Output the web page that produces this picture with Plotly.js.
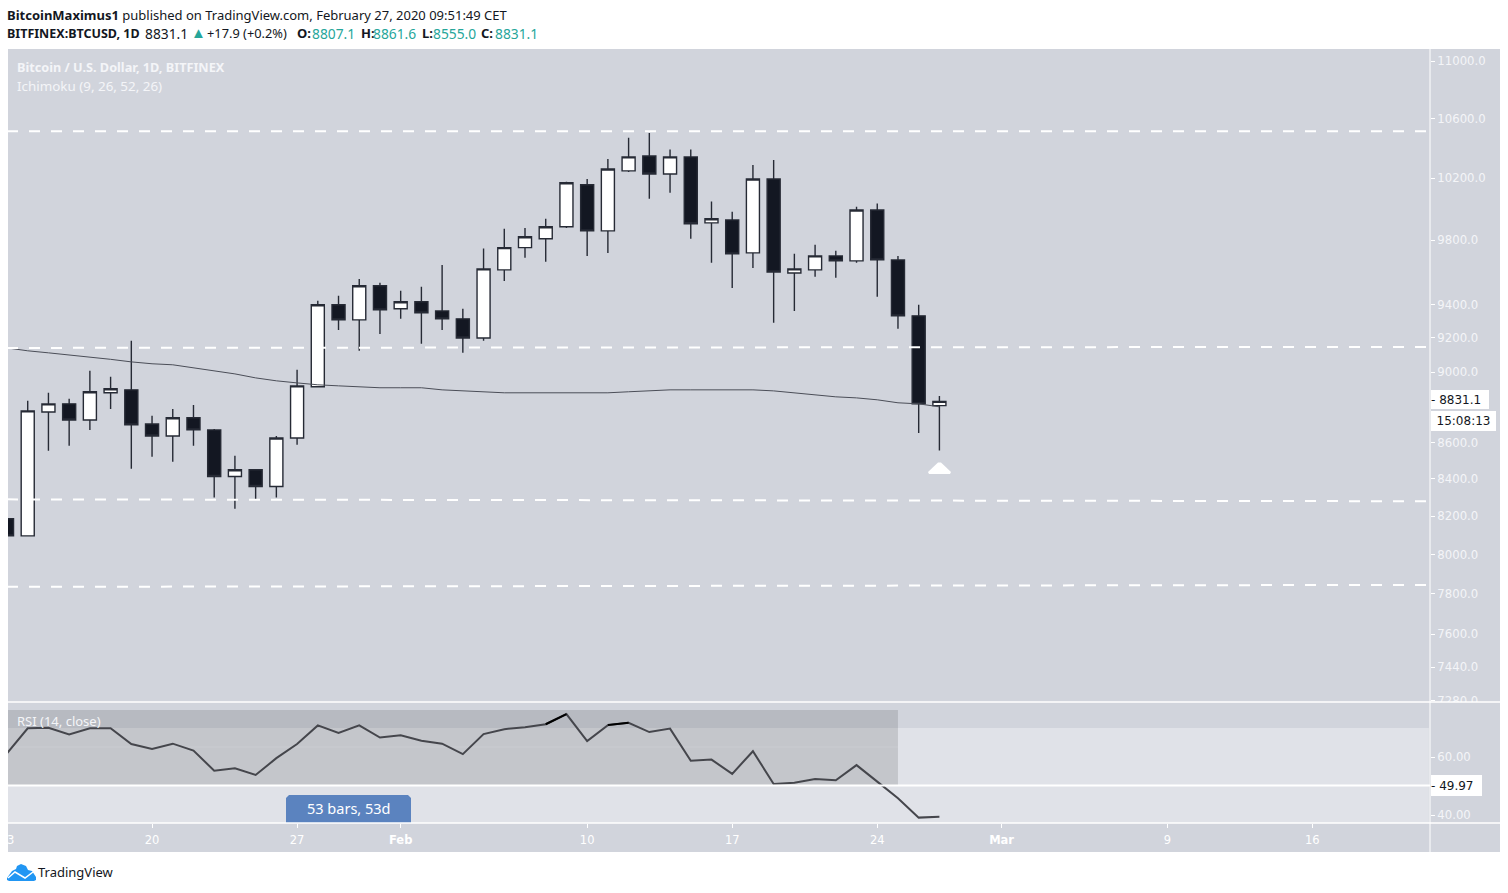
<!DOCTYPE html>
<html><head><meta charset="utf-8">
<script src="https://cdn.plot.ly/plotly-3.0.1.min.js"></script>
<style>html,body{margin:0;padding:0;background:#fff;overflow:hidden}#c{width:1508px;height:893px}</style>
</head><body><div id="c"></div>
<script>
const dates=["2020-01-13","2020-01-14","2020-01-15","2020-01-16","2020-01-17","2020-01-18","2020-01-19","2020-01-20","2020-01-21","2020-01-22","2020-01-23","2020-01-24","2020-01-25","2020-01-26","2020-01-27","2020-01-28","2020-01-29","2020-01-30","2020-01-31","2020-02-01","2020-02-02","2020-02-03","2020-02-04","2020-02-05","2020-02-06","2020-02-07","2020-02-08","2020-02-09","2020-02-10","2020-02-11","2020-02-12","2020-02-13","2020-02-14","2020-02-15","2020-02-16","2020-02-17","2020-02-18","2020-02-19","2020-02-20","2020-02-21","2020-02-22","2020-02-23","2020-02-24","2020-02-25","2020-02-26","2020-02-27"];
const opens=[8187,8097,8771,8817,8726,8880,8897,8703,8636,8738,8670,8413,8450,8359,8625,8915,9399,9308,9515,9375,9417,9362,9314,9200,9613,9752,9808,9884,10156,9858,10247,10346,10227,10340,9909,9928,9719,10194,9594,9613,9700,9669,9992,9675,9332,8807.1];
const highs=[8187,8835,8880,8846,9007,8972,9183,8749,8788,8811,8675,8527,8450,8636,9013,9423,9454,9557,9533,9484,9509,9644,9375,9747,9871,9877,9935,10175,10194,10326,10468,10501,10389,10389,10046,9980,10286,10320,9713,9770,9732,10013,10033,9700,9399,8861.6];
const lows=[8097,8097,8554,8582,8670,8788,8456,8521,8494,8582,8300,8240,8290,8300,8587,8915,9248,9124,9224,9314,9165,9248,9112,9183,9545,9688,9663,9877,9700,9719,10240,10065,10103,9808,9657,9502,9625,9290,9362,9570,9564,9657,9448,9254,8653,8555.0];
const closes=[8097,8777,8817,8726,8886,8903,8698,8636,8738,8670,8413,8450,8359,8625,8920,9399,9308,9515,9368,9417,9350,9314,9200,9619,9752,9821,9884,10169,9858,10260,10340,10227,10340,9903,9935,9713,10194,9600,9619,9700,9669,9992,9675,9332,8817,8831.1];
const baseline=[9141,9124,9112,9100,9088,9074,9059,9048,9042,9024,9007,8989,8966,8949,8937,8926,8920,8915,8909,8909,8909,8897,8891,8886,8880,8880,8880,8880,8880,8880,8886,8891,8897,8897,8897,8897,8897,8891,8880,8868,8857,8851,8840,8823,8817,8800];
const rsi=[61.3,69.9,70.1,67.8,69.9,69.9,64.5,62.8,64.6,62.2,55.3,56.1,53.8,59.6,64.5,70.9,68.3,70.9,66.7,67.5,65.6,64.6,61.0,67.9,69.6,70.3,71.3,74.8,65.5,71.0,71.8,68.6,69.8,58.7,59.1,54.2,62.0,50.7,51.1,52.4,52.0,57.2,51.5,45.8,39.1,39.4];
const levelDates=["2020-01-13","2020-03-21 15:00"];
const level1=[10512,10512];
const level2=[9141,9147];
const level3=[8290,8280];
const level4=[7835,7845];
const priceTicks=[11000,10600,10200,9800,9400,9200,9000,8600,8400,8200,8000,7800,7600,7440,7280];
const priceTickText=["11000.0","10600.0","10200.0","9800.0","9400.0","9200.0","9000.0","8600.0","8400.0","8200.0","8000.0","7800.0","7600.0","7440.0","7280.0"];
const rsiTicks=[40,60];
const rsiTickText=["40.00","60.00"];
const timeTicks=["2020-01-13","2020-01-20","2020-01-27","2020-02-01","2020-02-10","2020-02-17","2020-02-24","2020-03-01","2020-03-09","2020-03-16"];
const timeTickText=["13","20","27","<b>Feb</b>","10","17","24","<b>Mar</b>","9","16"];

const W=1508,H=893;
const PANE="#d1d4dc",BAND="#e0e2e8",INK="#131722",TXT="#f4f5f8",UP="#26a69a";
const fx=v=>v/W, fy=v=>1-v/H;
const poly=(pts,close=true)=>pts.map((p,i)=>(i?"L":"M")+fx(p[0])+" "+fy(p[1])).join(" ")+(close?" Z":"");
const rect=(x0,y0,x1,y1,color,layer)=>({type:"rect",xref:"paper",yref:"paper",x0:fx(x0),x1:fx(x1),y0:fy(y0),y1:fy(y1),fillcolor:color,line:{width:0},layer:layer||"below"});
const hline=(x0,x1,y,w)=>({type:"line",xref:"paper",yref:"paper",x0:fx(x0),x1:fx(x1),y0:fy(y),y1:fy(y),line:{color:"#fff",width:w||1.5},layer:"above"});
const note=(x,y,text,o)=>Object.assign({xref:"paper",yref:"paper",x:fx(x),y:fy(y),text,showarrow:false,xanchor:"left",yanchor:"middle",align:"left",borderpad:0,borderwidth:0,font:{family:"Noto Sans",size:13,color:INK}},o||{});
const f=(size,color,family)=>({font:{family:family||"Noto Sans",size,color:color||INK}});

const candleLine="#262a35";
const traces=[
 {type:"candlestick",x:dates,open:opens,high:highs,low:lows,close:closes,xaxis:"x",yaxis:"y",whiskerwidth:0,
  increasing:{line:{color:candleLine,width:1.4},fillcolor:"#ffffff"},
  decreasing:{line:{color:candleLine,width:1.4},fillcolor:INK},showlegend:false,hoverinfo:"skip"},
 {type:"scatter",mode:"lines",x:dates,y:baseline,xaxis:"x",yaxis:"y",line:{color:"#4b4e58",width:1},hoverinfo:"skip"}
];
[level1,level2,level3,level4].forEach(l=>traces.push({type:"scatter",mode:"lines",x:levelDates,y:l,xaxis:"x",yaxis:"y",
  line:{color:"#ffffff",width:2,dash:"11px,11px"},hoverinfo:"skip"}));
traces.push({type:"scatter",mode:"lines",x:dates,y:rsi,xaxis:"x",yaxis:"y2",line:{color:"#45464c",width:2},hoverinfo:"skip"});
traces.push({type:"scatter",mode:"lines",x:dates,y:rsi.map(v=>v>70.5?v:null),xaxis:"x",yaxis:"y2",line:{color:"#000",width:2},connectgaps:false,hoverinfo:"skip"});

const shapes=[
 rect(8,49,1500,852,PANE),
 {type:"rect",xref:"x",yref:"y2",x0:"2020-01-13",x1:"2020-03-21 15:00",y0:30,y1:70,fillcolor:BAND,line:{width:0},layer:"below"},
 {type:"rect",xref:"x",yref:"y2",x0:"2020-01-13",x1:"2020-02-25",y0:50.2,y1:76.2,fillcolor:"rgba(0,0,0,0.12)",line:{width:0},layer:"below"},
 {type:"line",xref:"x",yref:"y2",x0:"2020-01-13",x1:"2020-02-25",y0:63.45,y1:63.45,line:{color:"rgba(255,255,255,0.13)",width:1},layer:"below"},
 {type:"line",xref:"x",yref:"y2",x0:"2020-01-13",x1:"2020-03-22",y0:50.2,y1:50.2,line:{color:"#fff",width:2},layer:"above"},
 {type:"path",xref:"paper",yref:"paper",path:poly([[289,795],[408,795],[411,798],[411,823],[286,823],[286,798]]),fillcolor:"#5b83bf",line:{width:0},layer:"above"},
 rect(1431,702,1500,712,PANE,"above"),
 rect(0,49,8,852,"#ffffff","above"),
 hline(8,1500,702),hline(8,1500,823),
 {type:"line",xref:"paper",yref:"paper",x0:fx(1430),x1:fx(1430),y0:fy(49),y1:fy(852),line:{color:"#fff",width:1},layer:"above"},
 {type:"path",xref:"paper",yref:"paper",path:poly([[928,472],[938,462.5],[941,462.5],[951,472],[950,474],[929,474]]),fillcolor:"#fff",line:{width:0},layer:"above"},
 {type:"path",xref:"paper",yref:"paper",path:poly([[7,878],[12,871],[16,869],[17,866],[21,864],[26,866],[28,870],[32,871],[36,877],[36,880],[34,881],[9,881],[7,880]]),fillcolor:"#2196f3",line:{width:0},layer:"above"},
 {type:"path",xref:"paper",yref:"paper",path:poly([[8,878],[15,872],[25,878],[33,872]],false),line:{color:"#fff",width:1.5},layer:"above"}
];

const annotations=[
 note(7,15,"<b>BitcoinMaximus1</b> published on TradingView.com, February 27, 2020 09:51:49 CET"),
 note(7,33,"<b>BITFINEX:BTCUSD, 1D</b>",f(12.5)),
 note(145,33,"8831.1",f(13.8)),
 note(191,32,"▲",f(15,UP)),
 note(207,33,"+17.9 (+0.2%)",f(12.8)),
 note(297,33,"<b>O:</b>",f(13)),note(312,33,"8807.1",f(13.8,UP)),
 note(361,33,"<b>H:</b>",f(13)),note(373,33,"8861.6",f(13.8,UP)),
 note(422,33,"<b>L:</b>",f(13)),note(433,33,"8555.0",f(13.8,UP)),
 note(481,33,"<b>C:</b>",f(13)),note(495,33,"8831.1",f(13.8,UP)),
 note(17,67,"<b>Bitcoin / U.S. Dollar, 1D, BITFINEX</b>",f(12.7,TXT)),
 note(17,86,"Ichimoku (9, 26, 52, 26)",f(13.4,TXT)),
 note(17,721,"RSI (14, close)",f(13,TXT)),
 note(348.5,808,"53 bars, 53d",Object.assign({xanchor:"center"},f(14.5,"#fff"))),
 note(38,872,"TradingView",f(13)),
 note(1431,399.5,"- 8831.1",Object.assign({width:58,height:19,bgcolor:"#fff"},f(12,INK,"DejaVu Sans"))),
 note(1431,421,"15:08:13",Object.assign({width:65,height:20,align:"center",bgcolor:"#fff"},f(12,INK,"DejaVu Sans"))),
 note(1431,785,"- 49.97",Object.assign({width:51,height:21,bgcolor:"#fff"},f(12,INK,"DejaVu Sans")))
];

const tickFont={family:"DejaVu Sans",size:11.7,color:TXT};
const layout={
 width:W,height:H,paper_bgcolor:"#fff",plot_bgcolor:"rgba(0,0,0,0)",showlegend:false,boxgap:0.37,boxgroupgap:0,
 margin:{l:0,r:0,t:0,b:0,pad:0},hovermode:false,
 xaxis:{type:"date",domain:[fx(7),fx(1430)],range:["2020-01-13","2020-03-21 16:15"],anchor:"y2",tickmode:"array",tickvals:timeTicks,ticktext:timeTickText,
  ticks:"outside",ticklen:4,tickcolor:"#fff",ticklabelstandoff:2,ticklabeloverflow:"allow",tickfont:{family:"DejaVu Sans",size:11.5,color:"#fff"},tickangle:0,showgrid:false,zeroline:false,showline:false,rangeslider:{visible:false},fixedrange:true},
 yaxis:{type:"log",domain:[fy(702),fy(49)],range:[Math.log10(7274),Math.log10(11085.5)],anchor:"x",side:"right",tickmode:"array",tickvals:priceTicks,ticktext:priceTickText,
  ticks:"outside",ticklen:4,tickcolor:"#fff",tickfont:tickFont,showgrid:false,zeroline:false,showline:false,fixedrange:true},
 yaxis2:{type:"linear",domain:[fy(823),fy(702)],range:[37.24,78.97],anchor:"x",side:"right",tickmode:"array",tickvals:rsiTicks,ticktext:rsiTickText,
  ticks:"outside",ticklen:4,tickcolor:"#fff",tickfont:tickFont,showgrid:false,zeroline:false,showline:false,fixedrange:true},
 shapes,annotations
};
Plotly.newPlot("c",traces,layout,{displayModeBar:false,staticPlot:true});
</script></body></html>
